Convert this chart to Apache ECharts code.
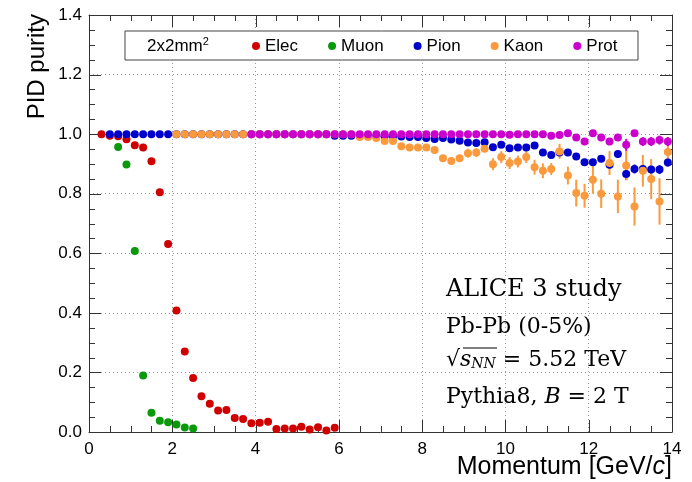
<!DOCTYPE html>
<html>
<head>
<meta charset="utf-8">
<script src="https://cdn.jsdelivr.net/npm/echarts@6/dist/echarts.min.js"></script>
<style>html,body{margin:0;padding:0;background:#fff;}#chart{width:692px;height:482px;}</style>
</head>
<body>
<div id="chart"></div>
<script>
// ---- data ----
const momentum = [0.3,0.5,0.7,0.9,1.1,1.3,1.5,1.7,1.9,2.1,2.3,2.5,2.7,2.9,3.1,3.3,3.5,3.7,3.9,4.1,4.3,4.5,4.7,4.9,5.1,5.3,5.5,5.7,5.9,6.1,6.3,6.5,6.7,6.9,7.1,7.3,7.5,7.7,7.9,8.1,8.3,8.5,8.7,8.9,9.1,9.3,9.5,9.7,9.9,10.1,10.3,10.5,10.7,10.9,11.1,11.3,11.5,11.7,11.9,12.1,12.3,12.5,12.7,12.9,13.1,13.3,13.5,13.7,13.9];
const xTicks = [0,2,4,6,8,10,12,14];
const yTicks = [0.0,0.2,0.4,0.6,0.8,1.0,1.2,1.4];
const legendNames = ['Elec','Muon','Pion','Kaon','Prot'];

// Elec: bins 0.3 .. 5.9
const elecFirstBin = 0;
const elecPurity = [1.0,0.995,0.993,0.983,0.963,0.955,0.909,0.805,0.631,0.408,0.270,0.181,0.120,0.095,0.072,0.074,0.047,0.044,0.029,0.031,0.034,0.010,0.012,0.012,0.018,0.008,0.016,0.005,0.014];
// Muon: bins 0.7 .. 2.5
const muonFirstBin = 2;
const muonPurity = [0.957,0.898,0.608,0.190,0.065,0.038,0.033,0.025,0.015,0.012];
const muonErr = [0,0,0.013,0,0,0,0,0,0,0];
// Pion: bins 0.5 .. 13.9
const pionFirstBin = 1;
const pionPurity = [1.0,1.0,1.0,1.0,1.0,1.0,1.0,1.0,1.0,1.0,1.0,1.0,1.0,1.0,1.0,1.0,1.0,1.0,1.0,1.0,1.0,1.0,1.0,1.0,1.0,1.0,1.0,
  0.995,0.995,0.995,0.995,0.994,0.993,0.993,0.993,0.992,0.990,0.990,0.987,0.984,0.987,0.982,0.978,0.972,0.970,0.973,0.956,0.964,0.953,0.955,0.955,0.962,0.938,0.930,0.938,0.938,0.925,0.906,0.906,0.917,0.897,0.933,0.866,0.883,0.883,0.881,0.881,0.905];
const pionErr = [0,0,0,0,0,0,0,0,0,0,0,0,0,0,0,0,0,0,0,0,0,0,0,0,0,0,0,
  0,0,0,0,0,0,0,0,0,0,0,0,0,0,0,0,0,0,0,0,0,0,0,0,0,0,0,0,0,0.008,0.01,0.01,0.01,0.012,0.012,0.02,0.015,0.015,0.015,0.015,0.015];
// Kaon: bins 2.1 .. 13.9
const kaonFirstBin = 9;
const kaonPurity = [1.0,1.0,1.0,1.0,1.0,1.0,1.0,1.0,1.0,1.0,1.0,1.0,1.0,1.0,1.0,1.0,1.0,1.0,1.0,1.0,1.0,1.0,
  0.990,0.990,0.987,0.977,0.977,0.959,0.955,0.955,0.955,0.947,0.919,0.910,0.919,0.936,0.938,0.951,0.899,0.923,0.903,0.908,0.923,0.889,0.877,0.883,0.942,0.861,0.802,0.793,0.847,0.800,0.903,0.791,0.895,0.757,0.877,0.849,0.774,0.940];
const kaonErr = [0,0,0,0,0,0,0,0,0,0,0,0,0,0,0,0,0,0,0,0,0,0,
  0,0,0,0,0,0,0,0,0,0,0,0,0,0.015,0.015,0,0.02,0.02,0.02,0.02,0.02,0.025,0.025,0.02,0.025,0.03,0.045,0.04,0.047,0.048,0.04,0.056,0.05,0.064,0.053,0.067,0.078,0.05];
// Prot: bins 3.9 .. 13.9
const protFirstBin = 18;
const protPurity = [1.0,1.0,1.0,1.0,1.0,1.0,1.0,1.0,1.0,1.0,1.0,1.0,1.0,1.0,1.0,1.0,1.0,1.0,1.0,1.0,1.0,1.0,1.0,1.0,1.0,1.0,1.0,1.0,1.0,1.0,1.0,
  0.998,1.0,1.0,1.0,1.0,0.995,0.997,1.003,0.989,0.975,1.003,0.989,0.975,0.989,0.964,1.003,0.975,0.975,0.980,0.975];
const protErr = [0,0,0,0,0,0,0,0,0,0,0,0,0,0,0,0,0,0,0,0,0,0,0,0,0,0,0,0,0,0,0,
  0,0,0,0,0,0,0,0,0,0.01,0,0.01,0.012,0.01,0.02,0.01,0.015,0.015,0.015,0.015];

const colors = {Elec:'#d00000', Muon:'#0a990a', Pion:'#0000cc', Kaon:'#fa9a3c', Prot:'#cc00cc'};

function points(first, ys) { return ys.map((y, i) => [momentum[first + i], y]); }
function errPoints(first, ys, es) { return ys.map((y, i) => [momentum[first + i], y, es[i] || 0]); }

function scatter(name, first, ys) {
  return { type:'scatter', name, data: points(first, ys), symbol:'circle', symbolSize:8, z:3,
    itemStyle:{color: colors[name], opacity:1}, xAxisIndex:0, yAxisIndex:0 };
}
function errBars(name, first, ys, es) {
  return { type:'custom', name: name + ' err', silent:true, xAxisIndex:0, yAxisIndex:0, z:3,
    data: errPoints(first, ys, es), encode:{x:0, y:1},
    renderItem: function(params, api) {
      const x = api.value(0), y = api.value(1), e = api.value(2);
      if (!e) return null;
      const p1 = api.coord([x, y - e]), p2 = api.coord([x, y + e]);
      return { type:'line', shape:{x1:p1[0], y1:p1[1], x2:p2[0], y2:p2[1]},
        style:{stroke: colors[name], lineWidth:2} };
    }
  };
}

// frame tick marks (ROOT style, inside, on all four sides), placed through the axis scales
const axisColor = '#333';
function subdivide(majors, n) {
  const out = [];
  for (let i = 0; i < majors.length - 1; i++) {
    for (let k = 1; k < n; k++) out.push(majors[i] + (majors[i+1] - majors[i]) * k / n);
  }
  return out;
}
const tickItems = [];
xTicks.forEach(v => tickItems.push([0, v, 12]));
subdivide(xTicks, 4).forEach(v => tickItems.push([0, v, 6]));
yTicks.forEach(v => tickItems.push([1, v, 12]));
subdivide(yTicks, 4).forEach(v => tickItems.push([1, v, 6]));
const xMin = xTicks[0], xMax = xTicks[xTicks.length-1], yMin = yTicks[0], yMax = yTicks[yTicks.length-1];
const tickSeries = {
  type:'custom', name:'frame ticks', silent:true, clip:false, z:2, xAxisIndex:0, yAxisIndex:0,
  data: tickItems, encode:{x:-1, y:-1},
  renderItem: function(params, api) {
    const isY = api.value(0), v = api.value(1), len = api.value(2);
    const st = {stroke: axisColor, lineWidth:1};
    if (!isY) {
      const b = api.coord([v, yMin]), t = api.coord([v, yMax]);
      const x = Math.round(b[0]) + 0.5;
      return { type:'group', children:[
        { type:'line', shape:{x1:x, y1:b[1], x2:x, y2:b[1] - len}, style:st },
        { type:'line', shape:{x1:x, y1:t[1], x2:x, y2:t[1] + len}, style:st } ] };
    }
    const l = api.coord([xMin, v]), r = api.coord([xMax, v]);
    const y = Math.round(l[1]) + 0.5;
    return { type:'group', children:[
      { type:'line', shape:{x1:l[0], y1:y, x2:l[0] + len, y2:y}, style:st },
      { type:'line', shape:{x1:r[0], y1:y, x2:r[0] - len, y2:y}, style:st } ] };
  }
};

function line() { return { show:true, onZero:false, lineStyle:{color:axisColor, width:1} }; }
function labelFont(extra) { return Object.assign({ fontFamily:'Liberation Sans, Arial, sans-serif', fontSize:17, color:'#000' }, extra); }
const gridLine = {show:true, lineStyle:{color:'#9a9a9a', type:[1,3], width:1}};

const chart = echarts.init(document.getElementById('chart'), null, {renderer:'canvas'});
chart.setOption({
  animation:false,
  backgroundColor:'#fff',
  grid:{left:89, right:20, top:15, bottom:50, containLabel:false},
  xAxis:[
    { type:'value', min:xMin, max:xMax, interval:2, position:'bottom',
      axisLine:line(), axisTick:{show:false}, minorTick:{show:false},
      axisLabel:labelFont({margin:9, formatter:v => String(v)}), splitLine:gridLine },
    { type:'value', min:xMin, max:xMax, interval:2, position:'top',
      axisLine:line(), axisTick:{show:false}, minorTick:{show:false}, axisLabel:{show:false}, splitLine:{show:false} }
  ],
  yAxis:[
    { type:'value', min:yMin, max:yMax, interval:0.2, position:'left',
      axisLine:line(), axisTick:{show:false}, minorTick:{show:false},
      axisLabel:labelFont({margin:7, formatter:v => v.toFixed(1)}), splitLine:gridLine },
    { type:'value', min:yMin, max:yMax, interval:0.2, position:'right',
      axisLine:line(), axisTick:{show:false}, minorTick:{show:false}, axisLabel:{show:false}, splitLine:{show:false} }
  ],
  legend:{
    data: legendNames.map(n => ({name:n, icon:'circle'})),
    left:252, top:37, padding:0, itemGap:30, itemWidth:8, itemHeight:8, z:10,
    selectedMode:false,
    textStyle:{fontFamily:'Liberation Sans, Arial, sans-serif', fontSize:17, color:'#000', lineHeight:18}
  },
  graphic:[
    { type:'rect', shape:{x:125, y:31, width:513, height:29}, z:5,
      style:{fill:'#fff', stroke:'#444', lineWidth:1} },
    { type:'text', x:147, y:46, z:6,
      style:{ text:'2x2mm{sup|2}', fill:'#000', font:'17px "Liberation Sans", Arial, sans-serif',
        verticalAlign:'middle', align:'left',
        rich:{ sup:{ fontSize:11, fontFamily:'Liberation Sans', verticalAlign:'top', padding:[0,0,9,0], fill:'#000' } } } },
    { type:'text', x:25, y:14, rotation:Math.PI/2, z:6,
      style:{ text:'PID purity', fill:'#000', font:'24px "Liberation Sans", Arial, sans-serif', align:'right', verticalAlign:'top' } },
    { type:'text', x:672, y:467, z:6,
      style:{ text:'Momentum [GeV/{i|c}]', fill:'#000', font:'25px "Liberation Sans", Arial, sans-serif', align:'right', verticalAlign:'middle',
        rich:{ i:{ fontSize:25, fontStyle:'italic', fontFamily:'Liberation Sans' } } } },
    { type:'text', x:446, y:290, z:6,
      style:{ text:'ALICE 3 study', fill:'#000', font:'24px "DejaVu Serif", serif', align:'left', verticalAlign:'middle' } },
    { type:'text', x:446, y:327, z:6,
      style:{ text:'Pb-Pb (0-5%)', fill:'#000', font:'22px "DejaVu Serif", serif', align:'left', verticalAlign:'middle' } },
    { type:'text', x:446, y:360, z:6,
      style:{ text:'√{s|s}{sub|NN} = 5.52 TeV', fill:'#000', font:'22px "DejaVu Serif", serif', align:'left', verticalAlign:'middle',
        rich:{ s:{ fontSize:22, fontStyle:'italic', fontFamily:'DejaVu Serif' },
               sub:{ fontSize:14, fontStyle:'italic', fontFamily:'DejaVu Serif', verticalAlign:'bottom', padding:[6,0,0,0] } } } },
    { type:'line', z:6, shape:{x1:463, y1:348, x2:497, y2:348}, style:{stroke:'#000', lineWidth:1.2} },
    { type:'text', x:446, y:397, z:6,
      style:{ text:'Pythia8, {b|B} = 2 T', fill:'#000', font:'22px "DejaVu Serif", serif', align:'left', verticalAlign:'middle',
        rich:{ b:{ fontSize:22, fontStyle:'italic', fontFamily:'DejaVu Serif' } } } }
  ],
  series:[
    tickSeries,
    scatter('Elec', elecFirstBin, elecPurity),
    scatter('Muon', muonFirstBin, muonPurity), errBars('Muon', muonFirstBin, muonPurity, muonErr),
    scatter('Pion', pionFirstBin, pionPurity), errBars('Pion', pionFirstBin, pionPurity, pionErr),
    scatter('Kaon', kaonFirstBin, kaonPurity), errBars('Kaon', kaonFirstBin, kaonPurity, kaonErr),
    scatter('Prot', protFirstBin, protPurity), errBars('Prot', protFirstBin, protPurity, protErr)
  ]
});
</script>
</body>
</html>
